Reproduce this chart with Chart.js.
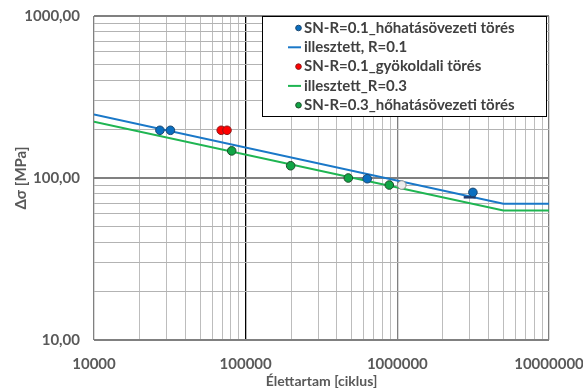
<!DOCTYPE html>
<html>
<head>
<meta charset="utf-8">
<script src="https://cdn.jsdelivr.net/npm/chart.js@4/dist/chart.umd.min.js"></script>
<style>
html,body{margin:0;padding:0;background:#fff;}
#wrap{width:583px;height:390px;position:relative;}
</style>
</head>
<body>
<div id="wrap"><canvas id="c" width="583" height="390"></canvas></div>
<script>
// ---- data ----
const blueN  = [27200, 31900, 633000, 3150000];
const blueS  = [197, 197, 99, 81.5];
const redN   = [69000, 75300];
const redS   = [197, 197];
const greenN = [80900, 198000, 475000, 885000];
const greenS = [147, 119, 100, 90.5];
const grayN  = [1070000];
const grayS  = [90.5];
const runoutN = [3000000];
const runoutS = [76];
const fit01N = [10000, 5000000, 10000000];
const fit01S = [247, 69.4, 69.4];
const fit03N = [10000, 5000000, 10000000];
const fit03S = [222.6, 63.1, 63.1];

const xTickValues = [];
for (let e = 4; e <= 6; e++) for (let m = 1; m <= 9; m++) xTickValues.push(m * Math.pow(10, e));
xTickValues.push(1e7);
const yTickValues = [];
for (let e = 1; e <= 2; e++) for (let m = 1; m <= 9; m++) yTickValues.push(m * Math.pow(10, e));
yTickValues.push(1000);

const labels = {
  p01: 'SN-R=0.1_hőhatásövezeti törés',
  f01: 'illesztett, R=0.1',
  p01g: 'SN-R=0.1_gyökoldali törés',
  f03: 'illesztett_R=0.3',
  p03: 'SN-R=0.3_hőhatásövezeti törés'
};

const pts = (xs, ys) => xs.map((x, i) => ({x: x, y: ys[i]}));
const isPow10 = v => Math.abs(Math.log10(v) - Math.round(Math.log10(v))) < 1e-9;

const FONT = 'Lato, "Open Sans", "DejaVu Sans", sans-serif';

const legendPlugin = {
  id: 'boxLegend',
  afterDatasetsDraw(chart) {
    const ctx = chart.ctx;
    const x0 = 262, y0 = 16, w = 284, h = 100;
    ctx.save();
    ctx.fillStyle = '#ffffff';
    ctx.fillRect(x0, y0, w, h);
    ctx.strokeStyle = '#000000';
    ctx.lineWidth = 1;
    ctx.strokeRect(x0 + 0.5, y0 + 0.5, w, h);
    const items = chart.data.datasets.filter(d => d.legendRow !== undefined)
      .sort((a, b) => a.legendRow - b.legendRow);
    ctx.font = 'bold 15px ' + FONT;
    ctx.textBaseline = 'middle';
    items.forEach((d, i) => {
      const cy = y0 + 12 + i * 19.3;
      if (d.showLine) {
        ctx.strokeStyle = d.borderColor;
        ctx.lineWidth = 2;
        ctx.beginPath();
        ctx.moveTo(288, cy);
        ctx.lineTo(301, cy);
        ctx.stroke();
      } else {
        ctx.fillStyle = d.backgroundColor;
        ctx.strokeStyle = d.borderColor;
        ctx.lineWidth = 1;
        ctx.beginPath();
        ctx.arc(298.5, cy, 2.8, 0, Math.PI * 2);
        ctx.fill();
        ctx.stroke();
      }
      ctx.fillStyle = '#404040';
      ctx.textAlign = 'left';
      ctx.fillText(d.label, 304, cy);
    });
    ctx.restore();
  }
};

new Chart(document.getElementById('c'), {
  type: 'scatter',
  data: {
    datasets: [
      {label: labels.f01, data: pts(fit01N, fit01S), showLine: true, borderColor: '#1a78c8', backgroundColor: '#1a78c8', borderWidth: 2, pointRadius: 0, order: 5, legendRow: 1},
      {label: labels.f03, data: pts(fit03N, fit03S), showLine: true, borderColor: '#1fb552', backgroundColor: '#1fb552', borderWidth: 2, pointRadius: 0, order: 5, legendRow: 3},
      {label: 'runout', data: pts(runoutN, runoutS), pointStyle: 'line', pointRadius: 6, borderColor: '#1f3a6e', backgroundColor: '#1f3a6e', borderWidth: 2.5, order: 3},
      {label: labels.p01, data: pts(blueN, blueS), pointRadius: 4.3, backgroundColor: '#0a6fc0', borderColor: '#1b4770', borderWidth: 1, order: 1, legendRow: 0},
      {label: labels.p01g, data: pts(redN, redS), pointRadius: 4.3, backgroundColor: '#ff0000', borderColor: '#8a1a1a', borderWidth: 1, order: 1, legendRow: 2},
      {label: labels.p03, data: pts(greenN, greenS), pointRadius: 4.3, backgroundColor: '#10a545', borderColor: '#1d4d2a', borderWidth: 1, order: 1, legendRow: 4},
      {label: 'extra', data: pts(grayN, grayS), pointRadius: 4.3, backgroundColor: '#ececec', borderColor: '#8c8c8c', borderWidth: 1, order: 1}
    ]
  },
  options: {
    responsive: false,
    animation: false,
    events: [],
    layout: {padding: {left: 0, right: 34, top: 16, bottom: 0}},
    plugins: {legend: {display: false}, tooltip: {enabled: false}},
    scales: {
      x: {
        type: 'logarithmic',
        min: 10000, max: 10000000,
        afterBuildTicks: s => { s.ticks = xTickValues.map(v => ({value: v})); },
        afterFit: s => { s.height = 50; s.paddingLeft = 0; s.paddingRight = 0; },
        border: {display: false},
        grid: {
          drawTicks: false,
          color: c => {
            const v = c.tick ? c.tick.value : 0;
            if (Math.abs(v - 100000) < 1) return '#000000';
            return isPow10(v) ? '#808080' : '#bdbdbd';
          },
          lineWidth: c => (c.tick && isPow10(c.tick.value) ? 1.3 : 1)
        },
        ticks: {
          autoSkip: false, maxRotation: 0, padding: 15,
          color: '#595959',
          font: {family: FONT, size: 15, weight: 'bold'},
          callback: v => isPow10(v) ? String(Math.round(v)) : ''
        },
        title: {
          display: true, text: 'Élettartam [ciklus]', color: '#595959',
          font: {family: FONT, size: 14, weight: 'bold'}, padding: {top: 0, bottom: 0}
        }
      },
      y: {
        type: 'logarithmic',
        min: 10, max: 1000,
        afterBuildTicks: s => { s.ticks = yTickValues.map(v => ({value: v})); },
        afterFit: s => { s.width = 94; s.paddingTop = 0; s.paddingBottom = 0; },
        border: {display: false},
        grid: {
          drawTicks: false,
          color: c => {
            const v = c.tick ? c.tick.value : 0;
            return isPow10(v) ? '#808080' : '#b3b3b3';
          },
          lineWidth: c => (c.tick && isPow10(c.tick.value) ? 2 : 1)
        },
        ticks: {
          autoSkip: false, padding: 14,
          color: '#595959',
          font: {family: FONT, size: 15, weight: 'bold'},
          callback: v => isPow10(v) ? Number(v).toFixed(2).replace('.', ',') : ''
        },
        title: {
          display: true, text: 'Δσ [MPa]', color: '#595959',
          font: {family: FONT, size: 15, weight: 'bold'}, padding: {top: 12, bottom: 0}
        }
      }
    }
  },
  plugins: [legendPlugin]
});
</script>
</body>
</html>
